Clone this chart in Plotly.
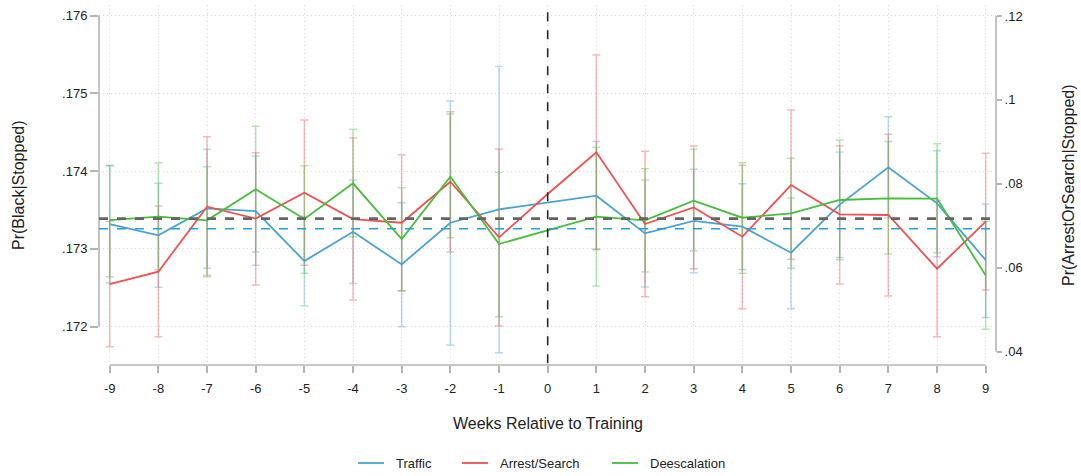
import plotly.graph_objects as go

# Event-time axis
weeks = list(range(-9, 10))

# Point estimates (week 0 is the reference week, no interval)
traffic = [.173320, .173174, .173521, .173487, .172844, .173221, .172801, .173337, .173509, .173594,
           .173684, .173200, .173359, .173286, .172951, .173569, .174049, .173586, .172857]
traffic_lo = [.172566, .172506, .172750, .172789, .172270, .172557, .172000, .171764, .171666, None,
              .172990, .172510, .172694, .172737, .172231, .172891, .173397, .172900, .172120]
traffic_hi = [.174066, .173843, .174280, .174194, .173419, .173886, .173594, .174901, .175343, None,
              .174379, .173886, .174023, .173839, .173654, .174246, .174700, .174263, .173577]

arrest = [.172549, .172707, .173543, .173389, .173723, .173384, .173337, .173864, .173149, .173706,
          .174241, .173320, .173534, .173157, .173821, .173444, .173436, .172746, .173350]
arrest_lo = [.171743, .171871, .172643, .172536, .172789, .172343, .172463, .172960, .172009, None,
             .172999, .172386, .172746, .172231, .172866, .172549, .172394, .171871, .172471]
arrest_hi = [.173354, .173551, .174443, .174237, .174657, .174426, .174211, .174764, .174284, None,
             .175493, .174254, .174323, .174074, .174786, .174323, .174473, .173620, .174229]

deesc = [.173371, .173414, .173367, .173766, .173384, .173843, .173127, .173929, .173063, .173243,
         .173414, .173367, .173620, .173401, .173457, .173629, .173650, .173646, .172660]
deesc_lo = [.172643, .172729, .172660, .172960, .172686, .173157, .172463, .173144, .172129, None,
            .172523, .172703, .172977, .172686, .172750, .172861, .172934, .172951, .171966]
deesc_hi = [.174074, .174109, .174057, .174576, .174070, .174537, .173787, .174734, .173984, None,
            .174306, .174031, .174280, .174109, .174164, .174400, .174379, .174353, .173354]

# Baselines
overall_mean = .173389
traffic_mean = .173260

# Axis ticks
x_ticks = weeks
x_tick_text = [str(w) for w in weeks]
y_ticks = [.172, .173, .174, .175, .176]
y_tick_text = [".172", ".173", ".174", ".175", ".176"]
y2_ticks = [.04, .06, .08, .10, .12]
y2_tick_text = [".04", ".06", ".08", ".1", ".12"]

series = [
    ("Traffic", traffic, traffic_lo, traffic_hi, (72, 163, 205)),
    ("Arrest/Search", arrest, arrest_lo, arrest_hi, (240, 80, 80)),
    ("Deescalation", deesc, deesc_lo, deesc_hi, (70, 190, 60)),
]

# Page geometry (px) of the plotting area
PLOT_L, PLOT_R, PLOT_T, PLOT_B = 99, 996, 5, 365
W, H = 1081, 476


def px_x(px):
    return (px - PLOT_L) / (PLOT_R - PLOT_L)


def px_y(py):
    return (PLOT_B - py) / (PLOT_B - PLOT_T)


fig = go.Figure()

# Confidence intervals (drawn first, underneath the lines)
for name, y, lo, hi, rgb in series:
    idx = [i for i in range(len(weeks)) if lo[i] is not None]
    fig.add_trace(go.Scatter(
        x=[weeks[i] for i in idx],
        y=[y[i] for i in idx],
        mode="markers",
        marker=dict(size=0.1, opacity=0),
        error_y=dict(
            type="data", symmetric=False,
            array=[hi[i] - y[i] for i in idx],
            arrayminus=[y[i] - lo[i] for i in idx],
            color="rgba(%d,%d,%d,0.4)" % rgb,
            thickness=1.5, width=4,
        ),
        showlegend=False, hoverinfo="skip",
    ))

for name, y, lo, hi, rgb in series:
    fig.add_trace(go.Scatter(
        x=weeks, y=y, mode="lines", name=name, showlegend=False,
        line=dict(color="rgb(%d,%d,%d)" % rgb, width=1.8),
    ))

# Keeps the secondary axis active
fig.add_trace(go.Scatter(x=[None], y=[None], yaxis="y2", showlegend=False, hoverinfo="skip"))

axis_col = "#b4b4b4"
shapes = [
    # axis lines spanning the tick range only
    dict(type="line", xref="paper", yref="y", x0=0, x1=0, y0=y_ticks[0], y1=y_ticks[-1],
         line=dict(color=axis_col, width=1.6), layer="above"),
    dict(type="line", xref="paper", yref="y2", x0=1, x1=1, y0=y2_ticks[0], y1=y2_ticks[-1],
         line=dict(color=axis_col, width=1.6), layer="above"),
    dict(type="line", xref="x", yref="paper", x0=x_ticks[0], x1=x_ticks[-1], y0=0, y1=0,
         line=dict(color=axis_col, width=1.6), layer="above"),
    # baselines
    dict(type="line", xref="paper", yref="y", x0=0, x1=1, y0=traffic_mean, y1=traffic_mean,
         line=dict(color="rgb(30,160,230)", width=1.5, dash="dash"), layer="above"),
    dict(type="line", xref="paper", yref="y", x0=0, x1=1, y0=overall_mean, y1=overall_mean,
         line=dict(color="rgb(100,100,100)", width=2.6, dash="dash"), layer="above"),
    # training week
    dict(type="line", xref="x", yref="paper", x0=0, x1=0, y0=0.005, y1=1,
         line=dict(color="rgb(40,40,40)", width=1.6, dash="dash"), layer="above"),
]

annotations = [
    dict(text="Pr(Black|Stopped)", xref="paper", yref="paper", x=px_x(18), y=0.5,
         textangle=-90, showarrow=False, font=dict(size=16, color="#222"),
         xanchor="center", yanchor="middle"),
    dict(text="Pr(ArrestOrSearch|Stopped)", xref="paper", yref="paper", x=px_x(1068), y=0.5,
         textangle=-90, showarrow=False, font=dict(size=16, color="#222"),
         xanchor="center", yanchor="middle"),
    dict(text="Weeks Relative to Training", xref="paper", yref="paper", x=0.5, y=px_y(423),
         showarrow=False, font=dict(size=16, color="#222"),
         xanchor="center", yanchor="middle"),
]

# Legend row below the axis title
legend_y = px_y(463)
legend_starts = [358, 462, 612]
for (name, y, lo, hi, rgb), x0 in zip(series, legend_starts):
    shapes.append(dict(type="line", xref="paper", yref="paper",
                       x0=px_x(x0), x1=px_x(x0 + 26), y0=legend_y, y1=legend_y,
                       line=dict(color="rgb(%d,%d,%d)" % rgb, width=1.8)))
    annotations.append(dict(text=name, xref="paper", yref="paper", x=px_x(x0 + 36), y=legend_y,
                            showarrow=False, xanchor="left", yanchor="middle",
                            font=dict(size=13, color="#222")))

font_family = "Liberation Sans, Arial, sans-serif"
grid_col = "#dadada"
fig.update_layout(
    width=W, height=H,
    margin=dict(l=PLOT_L, r=W - PLOT_R, t=PLOT_T, b=H - PLOT_B),
    paper_bgcolor="white", plot_bgcolor="white",
    font=dict(family=font_family, size=13, color="#222"),
    showlegend=False,
    xaxis=dict(
        range=[-9.22, 9.212], tickvals=x_ticks, ticktext=x_tick_text,
        ticks="outside", ticklen=7,
        tickcolor=axis_col, tickwidth=1.5, showline=False, zeroline=False,
        showgrid=True, griddash="1px,3px", gridcolor=grid_col, gridwidth=1,
        tickfont=dict(size=13, color="#222"), ticklabelstandoff=4,
    ),
    yaxis=dict(
        range=[.171508, .176135], tickvals=y_ticks, ticktext=y_tick_text,
        ticks="outside", ticklen=8, tickcolor=axis_col, tickwidth=1.5,
        showline=False, zeroline=False, showgrid=True, griddash="1px,3px",
        gridcolor=grid_col, gridwidth=1, tickfont=dict(size=13, color="#222"),
    ),
    yaxis2=dict(
        overlaying="y", side="right", range=[.036833, .122619],
        tickvals=y2_ticks, ticktext=y2_tick_text, ticks="outside", ticklen=5,
        tickcolor=axis_col, tickwidth=1.5, showline=False, zeroline=False,
        showgrid=False, tickfont=dict(size=13, color="#222"),
    ),
    shapes=shapes,
    annotations=annotations,
)

fig.write_html("out.html")
